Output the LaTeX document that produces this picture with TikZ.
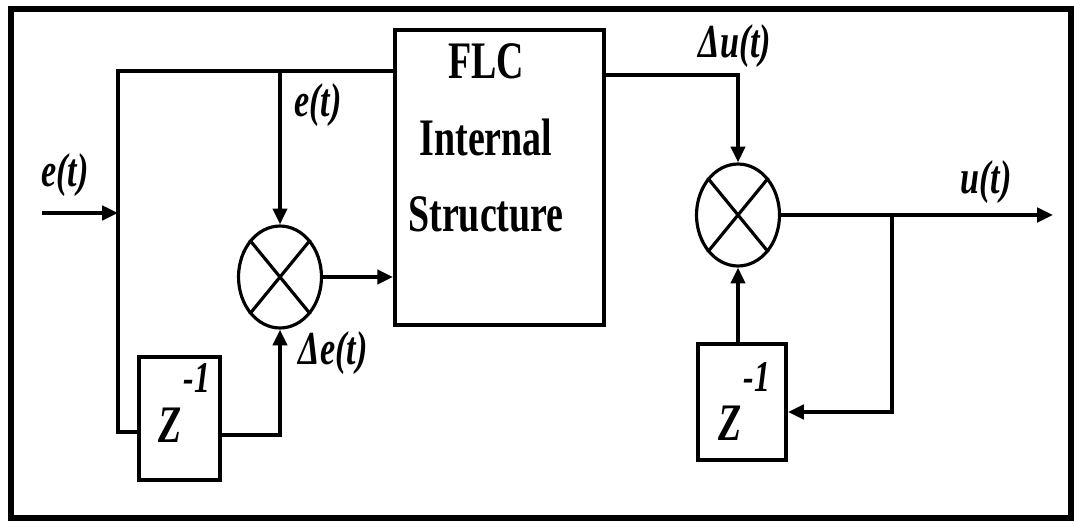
\documentclass[tikz,border=0pt]{standalone}
\usepackage{fontspec}
\setmainfont{Liberation Serif}
\newfontfamily\narrowfont[FakeStretch=0.72]{Liberation Serif}
\usepackage{tikz}
\usetikzlibrary{arrows.meta,positioning,shapes.geometric}
\definecolor{ink}{HTML}{000000}

\tikzset{
  wire/.style={draw=ink,line width=2.2pt},
  sig/.style={wire,-{Triangle[length=9pt,width=8pt]}},
  blockbox/.style={draw=ink,line width=2.2pt,fill=white,inner sep=0pt},
  mixer/.style={ellipse,draw=ink,line width=1.8pt,inner sep=0pt,
                minimum width=1.66cm,minimum height=2.04cm},
  sigtext/.style={inner sep=0pt,font=\narrowfont\bfseries\itshape\fontsize{27}{27}\selectfont},
  ztext/.style={inner sep=0pt,font=\narrowfont\bfseries\itshape\fontsize{30}{30}\selectfont},
  exptext/.style={inner sep=0pt,font=\narrowfont\bfseries\itshape\fontsize{25}{25}\selectfont},
}

\begin{document}
\begin{tikzpicture}[x=0.02cm,y=-0.02cm]
  \useasboundingbox (0,0) rectangle (1074,531);
  \draw[draw=ink,line width=3.4pt] (11,9) rectangle (1071,518);

  % blocks
  \node[blockbox,minimum width=4.18cm,minimum height=5.9cm] (flc) at (499.5,177.5) {};
  \node[inner sep=0pt,align=center,
        font=\narrowfont\bfseries\fontsize{30}{43.7}\selectfont] (flctext) at (486,138)
    {FLC\\Internal\\Structure};
  \node[mixer] (mulE) at (280,277) {};
  \node[mixer] (mulU) at (738,215) {};
  \node[blockbox,minimum width=1.62cm,minimum height=2.46cm] (delayE) at (179.5,418.5) {};
  \node[blockbox,minimum width=1.76cm,minimum height=2.32cm] (delayU) at (742,402) {};
  \node[ztext] (zE) at (170,425) {Z};
  \node[exptext] (zEexp) at (197,378) {-1};
  \node[ztext] (zU) at (730,423) {Z};
  \node[exptext] (zUexp) at (757,377) {-1};

  % crosses in the mixers
  \foreach \m in {mulE,mulU}
    \draw[draw=ink,line width=1.8pt] (\m.north west) -- (\m.south east)
                                     (\m.north east) -- (\m.south west);

  % points on the wires
  \coordinate (inL) at (42,213);
  \coordinate (jL) at (118,213);
  \coordinate (jTop) at (118,71);
  \coordinate (jBot) at (118,432);
  \coordinate (dE) at (280,435);
  \coordinate (dU) at (738,75);
  \coordinate (out) at (1053,215);
  \coordinate (fb) at (892,412);

  % left part
  \draw[sig] (inL) -- (jL);
  \draw[wire] (flc.west |- jTop) -- (jTop) -- (jBot) -- (delayE.west |- jBot);
  \draw[sig] (mulE.north |- jTop) -- (mulE.north);
  \draw[sig] (delayE.east |- dE) -- (dE) -- (mulE.south);
  \draw[sig] (mulE.east) -- (mulE.east -| flc.west);

  % right part
  \draw[sig] (flc.east |- dU) -- (dU) -- (mulU.north);
  \draw[sig] (mulU.east) -- (out);
  \draw[sig] (mulU.east -| fb) -- (fb) -- (fb -| delayU.east);
  \draw[sig] (mulU.south |- delayU.north) -- (mulU.south);

  % labels
  \node[sigtext] (lblIn) at (65,175) {e(t)};
  \node[sigtext] (lblE) at (318,105) {e(t)};
  \node[sigtext] (lblDE) at (333,353) {Δe(t)};
  \node[sigtext] (lblDU) at (735,46) {Δu(t)};
  \node[sigtext] (lblU) at (986,182) {u(t)};
\end{tikzpicture}
\end{document}
